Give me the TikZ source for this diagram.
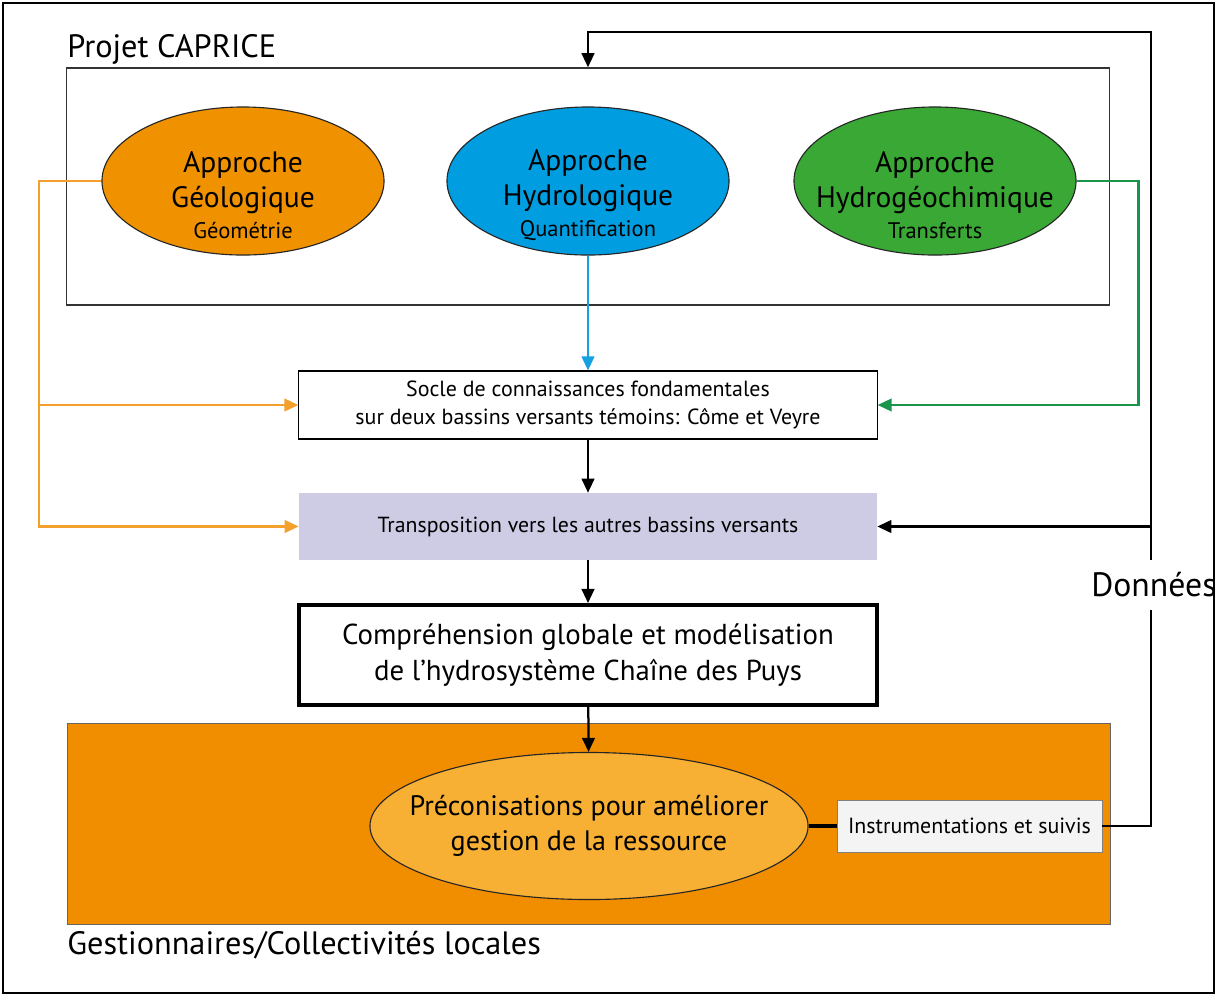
\documentclass[tikz,border=0pt]{standalone}
\usepackage{fontspec}
\setmainfont{PT Sans}
\usetikzlibrary{arrows.meta,positioning,shapes.geometric}
\definecolor{geolorange}{RGB}{240,145,0}
\definecolor{hydroblue}{RGB}{0,158,224}
\definecolor{chimgreen}{RGB}{58,168,53}
\definecolor{orangeline}{RGB}{243,160,45}
\definecolor{blueline}{RGB}{20,160,225}
\definecolor{greenline}{RGB}{25,150,75}
\definecolor{transpolilac}{RGB}{206,204,228}
\definecolor{gestorange}{RGB}{241,142,0}
\definecolor{precoorange}{RGB}{247,176,52}
\definecolor{instrugray}{RGB}{244,244,244}
\newcommand{\pxfont}[2]{\fontsize{#1pt}{#2pt}\selectfont}

\begin{document}
\begin{tikzpicture}[x=0.025cm, y=-0.025cm,
  approche/.style={ellipse, draw=black!85, line width=0.8pt, minimum width=7.05cm,
    minimum height=3.7cm, inner sep=0pt},
  approchetext/.style={align=center, font=\pxfont{21}{25}, inner sep=0pt},
  flowbox/.style={rectangle, minimum width=14.45cm, inner sep=0pt, align=center},
  link/.style={line width=1.6pt, -{Triangle[length=10pt,width=9pt]}},
  bigtitle/.style={font=\pxfont{23}{27}, inner sep=0pt, anchor=west}]
\useasboundingbox (0,0) rectangle (1217,996);
% outer frame
\draw[line width=0.8pt] (3,3) rectangle (1214,993);
% Projet CAPRICE frame
\node[bigtitle] (capricetitle) at (67,49) {Projet CAPRICE};
\node[draw=black!80, line width=1pt, minimum width=26.075cm, minimum height=5.925cm,
      inner sep=0pt] (caprice) at (588,186.5) {};
% three approaches
\node[approche, fill=geolorange] (geol) at (243,181) {};
\node[approche, fill=hydroblue] (hydro) at (588,181) {};
\node[approche, fill=chimgreen] (chim) at (935,181) {};
\node[approchetext] (geoltext) at (243,195)
  {Approche\\Géologique\\[-3pt]{\pxfont{16}{17}Géométrie}};
\node[approchetext] (hydrotext) at (588,195)
  {Approche\\Hydrologique\\[-3pt]{\pxfont{16}{17}Quantification}};
\node[approchetext] (chimtext) at (935,195)
  {Approche\\Hydrogéochimique\\[-3pt]{\pxfont{16}{17}Transferts}};
% flow boxes
\node[flowbox, draw, line width=0.8pt, minimum height=1.7cm, font=\pxfont{15.6}{20}]
  (socle) at (588,405)
  {Socle de connaissances fondamentales\\sur deux bassins versants témoins: Côme et Veyre};
\node[flowbox, fill=transpolilac, minimum height=1.675cm, font=\pxfont{15.5}{18}]
  (transpo) at (588,526.5) {Transposition vers les autres bassins versants};
\node[flowbox, draw, line width=2.8pt, minimum height=2.5cm, font=\pxfont{20.5}{26}]
  (compr) at (588,655)
  {Compréhension globale et modélisation\\de l’hydrosystème Chaîne des Puys};
% managers
\fill[gestorange, draw=black!60, line width=0.5pt] (67,723) rectangle (1110,924);
\node[ellipse, draw=black!85, line width=0.8pt, fill=precoorange, minimum width=10.95cm,
      minimum height=3.675cm, inner sep=0pt] (preco) at (589,826) {};
\node[align=center, inner sep=0pt, font=\pxfont{20}{25}] (precotext) at (preco.center)
  {Préconisations pour améliorer\\gestion de la ressource};
\node[draw=black!50, line width=0.5pt, fill=instrugray, minimum width=6.625cm,
      minimum height=1.3cm, inner sep=0pt, font=\pxfont{15.6}{18}]
  (instru) at (969.5,826) {Instrumentations et suivis};
\node[bigtitle] (gesttitle) at (67,945) {Gestionnaires/Collectivités locales};
% data loop
\coordinate (dtop) at (1151,32);
\node[font=\pxfont{24}{28}, inner sep=0pt, minimum height=1.25cm, anchor=west]
  (donnees) at (1091,585) {Données};
% connectors
\coordinate (orbus) at (39,526.5);
\draw[link, orangeline] (geol.west) -| (orbus) -- (transpo.west);
\draw[link, orangeline] (orbus |- socle.west) -- (socle.west);
\draw[link, blueline] (hydro.south) -- (socle.north);
\draw[link, greenline] (chim.east) -- ++(62,0) |- (socle.east);
\draw[link] (socle) -- (transpo);
\draw[link] (transpo) -- (compr);
\draw[link] (compr) -- (preco);
\draw[line width=2.2pt] (preco.east) -- (instru.west);
\draw[line width=1.6pt] (instru.east) -| (donnees.south -| dtop);
\draw[link] (donnees.north -| dtop) -- (dtop) -| (caprice.north);
\draw[link] (dtop |- transpo.east) -- (transpo.east);
\end{tikzpicture}
\end{document}
